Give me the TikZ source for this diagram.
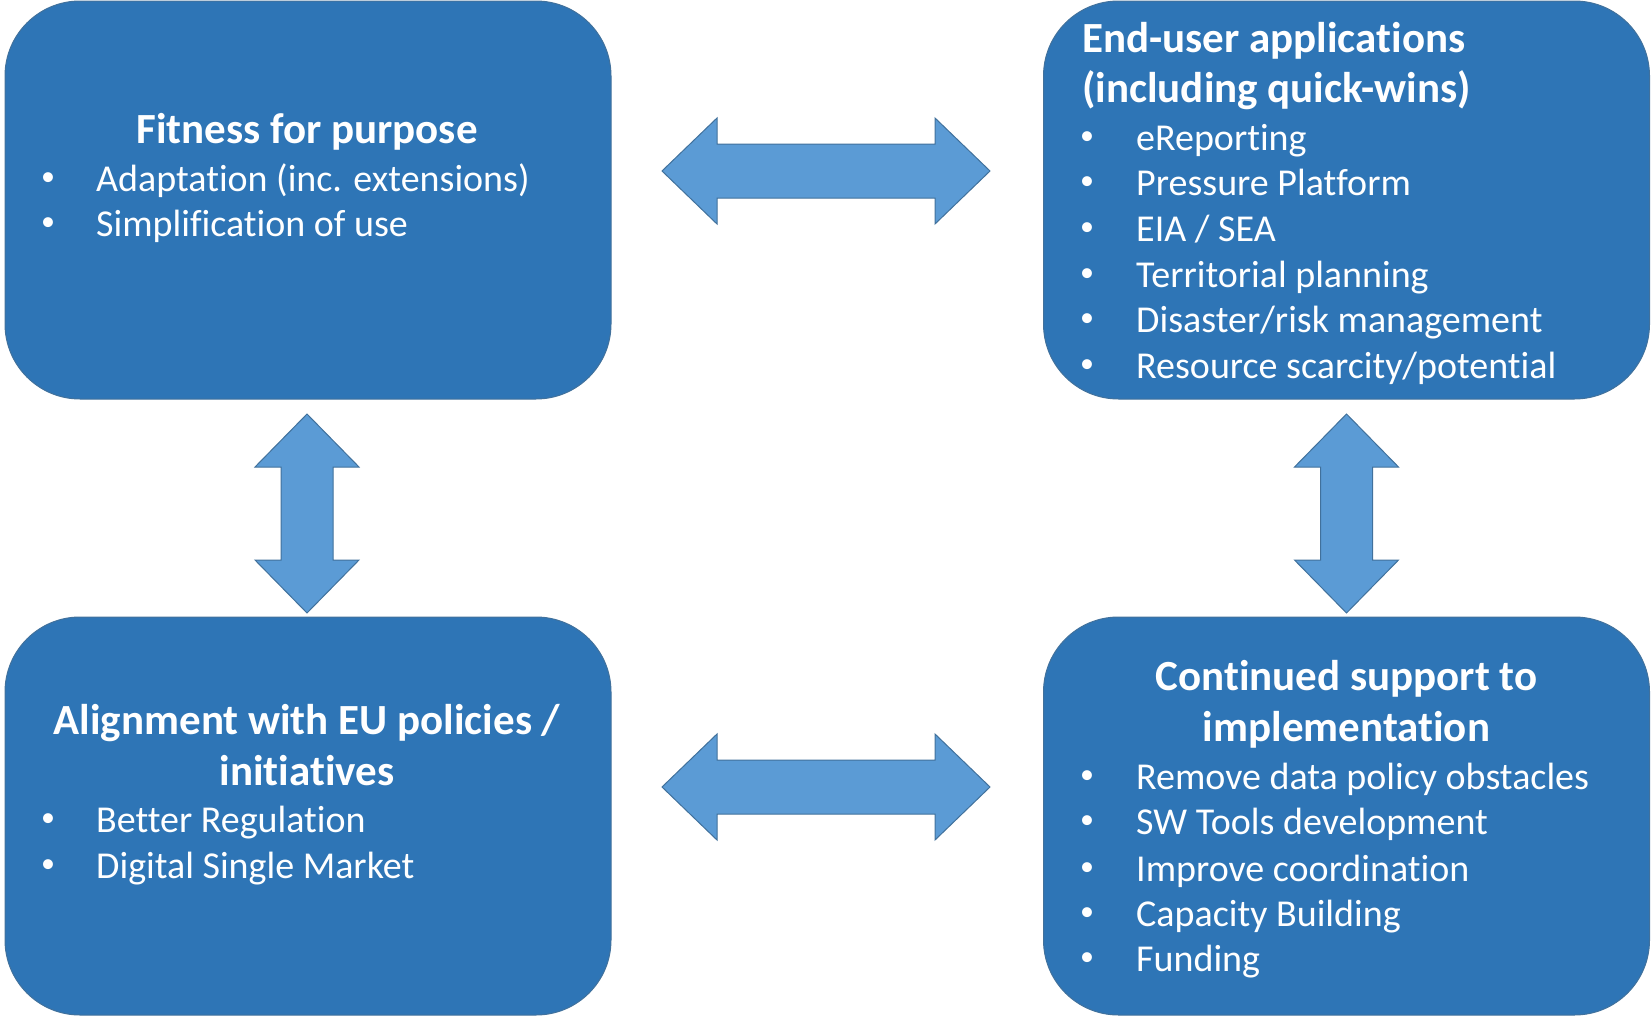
\documentclass[tikz,border=0pt]{standalone}
\usepackage{fontspec}
\setmainfont{Carlito}[Ligatures=CommonOff]
\usetikzlibrary{positioning}
\usetikzlibrary{calc}

\definecolor{boxblue}{HTML}{2E75B6}
\definecolor{boxedge}{HTML}{41719C}
\definecolor{arrowblue}{HTML}{5B9BD5}
\definecolor{arrowedge}{HTML}{41719C}

\tikzset{
  card/.style={draw=boxedge, line width=1pt, fill=boxblue, rounded corners=75pt,
               minimum width=606pt, minimum height=398pt, inner sep=0pt},
  head/.style={text=white, font=\fontsize{43}{52}\selectfont\bfseries, inner sep=0pt},
  dot/.style={text=white, font=\fontsize{28}{34}\selectfont, inner sep=0pt, anchor=center},
  entry/.style={text=white, font=\fontsize{38}{46}\selectfont, inner sep=0pt, anchor=base west},
  barrow/.style={draw=arrowedge, line width=1pt, fill=arrowblue, line join=miter},
}

\begin{document}
\begin{tikzpicture}[x=1pt,y=-1pt]

  \useasboundingbox (0,0) rectangle (1652,1017);

	%boxes
  \foreach \name/\cx/\cy in {fit/308/200, enduser/1346.5/200, align/308/816, support/1346.5/816}{
     \node[card] (\name) at (\cx,\cy) {};
  }

	%arrows
 \def\hl{55};
 \def\hw{53};
 \def\sw{27};
 \def\len{164};
    \foreach \cx/\cy in {826/171, 826/787}{
       \draw[barrow] (\cx-\len,\cy) -- (\cx-\len+\hl,\cy-\hw) -- (\cx-\len+\hl,\cy-\sw)
          -- (\cx+\len-\hl,\cy-\sw) -- (\cx+\len-\hl,\cy-\hw) -- (\cx+\len,\cy)
          -- (\cx+\len-\hl,\cy+\hw) -- (\cx+\len-\hl,\cy+\sw) -- (\cx-\len+\hl,\cy+\sw)
          -- (\cx-\len+\hl,\cy+\hw) -- cycle;
    }

 \def\hl{53};
 \def\hw{52};
 \def\sw{26};
 \def\len{99.5};
    \foreach \cx/\cy in {307/513.5, 1346.5/513.5}{
       \draw[barrow] (\cx,\cy-\len) -- (\cx+\hw,\cy-\len+\hl) -- (\cx+\sw,\cy-\len+\hl)
          -- (\cx+\sw,\cy+\len-\hl) -- (\cx+\hw,\cy+\len-\hl) -- (\cx,\cy+\len)
          -- (\cx-\hw,\cy+\len-\hl) -- (\cx-\sw,\cy+\len-\hl) -- (\cx-\sw,\cy-\len+\hl)
          -- (\cx-\hw,\cy-\len+\hl) -- cycle;
    }

	%titles
 \node[head, anchor=base] (fith) at (307,143) {Fitness for purpose};
 \node[head, anchor=base west] (euh1) at (1082,52) {End-user applications};
 \node[head, anchor=base west] (euh2) at (1082,102) {(including quick-wins)};
 \node[head, anchor=base] (alh1) at (307,734) {Alignment with EU policies /};
 \node[head, anchor=base] (alh2) at (307,785) {initiatives};
 \node[head, anchor=base] (suh1) at (1346.5,690) {Continued support to};
 \node[head, anchor=base] (suh2) at (1346.5,741) {implementation};

	%bullets
    \foreach \yy/\txt [count=\i] in {191/{Adaptation (inc. extensions)}, 236/{Simplification of use}}{
       \node[dot] (fitd\i) at (48,\yy-12) {•};
       \node[entry] (fitt\i) at (96,\yy) {\txt};
    }

    \foreach \yy/\txt [count=\i] in {150/{eReporting}, 195/{Pressure Platform}, 241/{EIA / SEA},
                                     287/{Territorial planning}, 332/{Disaster/risk management},
                                     378/{Resource scarcity/potential}}{
       \node[dot] (eud\i) at (1087,\yy-12) {•};
       \node[entry] (eut\i) at (1136,\yy) {\txt};
    }

    \foreach \yy/\txt [count=\i] in {832/{Better Regulation}, 878/{Digital Single Market}}{
       \node[dot] (ald\i) at (48,\yy-12) {•};
       \node[entry] (alt\i) at (96,\yy) {\txt};
    }

    \foreach \yy/\txt [count=\i] in {789/{Remove data policy obstacles}, 834/{SW Tools development},
                                     881/{Improve coordination}, 926/{Capacity Building},
                                     971/{Funding}}{
       \node[dot] (sud\i) at (1087,\yy-12) {•};
       \node[entry] (sut\i) at (1136,\yy) {\txt};
    }

\end{tikzpicture}
\end{document}
